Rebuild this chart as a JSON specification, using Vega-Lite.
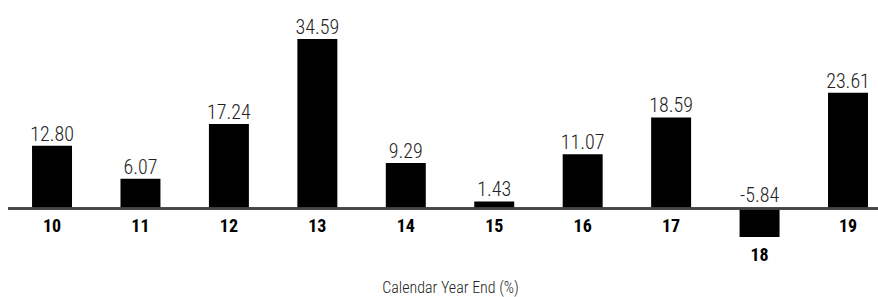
{
  "$schema": "https://vega.github.io/schema/vega-lite/v6.json",
  "width": 870,
  "height": 268,
  "autosize": {"type": "none"},
  "padding": {"left": 8, "top": 0, "right": 0, "bottom": 29},
  "background": "white",
  "config": {
    "view": {"stroke": null},
    "font": "Roboto Condensed, DejaVu Sans Condensed, Roboto"
  },
  "data": {
    "values": [
      {"year": "10", "value": 12.80, "label": "12.80"},
      {"year": "11", "value": 6.07, "label": "6.07"},
      {"year": "12", "value": 17.24, "label": "17.24"},
      {"year": "13", "value": 34.59, "label": "34.59"},
      {"year": "14", "value": 9.29, "label": "9.29"},
      {"year": "15", "value": 1.43, "label": "1.43"},
      {"year": "16", "value": 11.07, "label": "11.07"},
      {"year": "17", "value": 18.59, "label": "18.59"},
      {"year": "18", "value": -5.84, "label": "-5.84"},
      {"year": "19", "value": 23.61, "label": "23.61"}
    ]
  },
  "layer": [
    {
      "mark": {"type": "bar", "color": "#000"},
      "encoding": {
        "x": {
          "field": "year", "type": "nominal",
          "scale": {"paddingInner": 0.548, "paddingOuter": 0.1925, "align": 0.706},
          "axis": {
            "labels": false, "ticks": false, "domain": false,
            "title": "Calendar Year End (%)",
            "titleFont": "Roboto Condensed, DejaVu Sans Condensed, Roboto",
            "titleFontSize": 16, "titleFontWeight": 300, "titleColor": "#222",
            "titleBaseline": "alphabetic", "titleX": 442, "titleY": 24
          }
        },
        "y": {
          "field": "value", "type": "quantitative",
          "scale": {"domain": [-12.15, 42.55], "nice": false, "zero": true},
          "axis": null
        }
      }
    },
    {
      "mark": {"type": "rule", "color": "#444", "strokeWidth": 1.6},
      "encoding": {"y": {"datum": 0, "type": "quantitative"}}
    },
    {
      "transform": [{"filter": "datum.value >= 0"}],
      "mark": {"type": "text", "fontSize": 20, "fontWeight": 300, "color": "#222", "baseline": "alphabetic", "dy": -5},
      "encoding": {
        "x": {"field": "year", "type": "nominal"},
        "y": {"field": "value", "type": "quantitative"},
        "text": {"field": "label"}
      }
    },
    {
      "transform": [{"filter": "datum.value < 0"}],
      "mark": {"type": "text", "fontSize": 20, "fontWeight": 300, "color": "#222", "baseline": "alphabetic", "dy": -6},
      "encoding": {
        "x": {"field": "year", "type": "nominal"},
        "y": {"datum": 0, "type": "quantitative"},
        "text": {"field": "label"}
      }
    },
    {
      "transform": [{"filter": "datum.value >= 0"}],
      "mark": {"type": "text", "fontSize": 18, "fontWeight": "bold", "color": "#000", "baseline": "alphabetic", "dy": 24},
      "encoding": {
        "x": {"field": "year", "type": "nominal"},
        "y": {"datum": 0, "type": "quantitative"},
        "text": {"field": "year"}
      }
    },
    {
      "transform": [{"filter": "datum.value < 0"}],
      "mark": {"type": "text", "fontSize": 18, "fontWeight": "bold", "color": "#000", "baseline": "alphabetic", "dy": 24},
      "encoding": {
        "x": {"field": "year", "type": "nominal"},
        "y": {"field": "value", "type": "quantitative"},
        "text": {"field": "year"}
      }
    }
  ]
}
